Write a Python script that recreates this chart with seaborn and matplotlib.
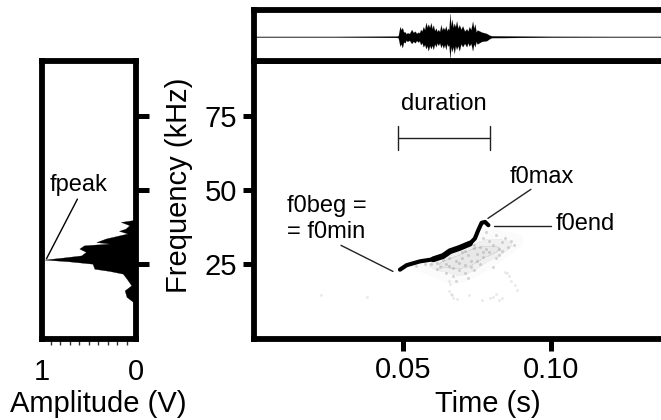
import matplotlib
matplotlib.use("Agg")
import matplotlib.pyplot as plt
import seaborn as sns

sns.set_style("white")
plt.rcParams['font.family'] = ['Liberation Sans', 'DejaVu Sans']
plt.rcParams['text.color'] = 'black'
plt.rcParams['axes.labelcolor'] = 'black'
plt.rcParams['xtick.labelcolor'] = 'black'
plt.rcParams['ytick.labelcolor'] = 'black'

# power spectrum
spec_freq = [40.5, 39.9, 39.3, 38.2, 37.05, 36.3, 35.4, 33.7, 32.5, 32.0, 31.4, 30.3, 29.2, 28.0, 27.25,
             26.6, 26.0, 25.2, 23.5, 22.75, 21.85, 20.2, 17.9, 16.2, 14.0, 12.3, 11.5]
spec_amp = [0.0, 0.035, 0.16, 0.07, 0.11, 0.18, 0.09, 0.32, 0.42, 0.28, 0.55, 0.60, 0.53, 0.58, 0.78,
            0.97, 0.71, 0.46, 0.44, 0.28, 0.14, 0.10, 0.05, 0.12, 0.10, 0.03, 0.0]

# oscillogram envelope
wave_t = [0.0, 0.02716, 0.04797, 0.04842, 0.04898, 0.04938, 0.04977, 0.05022, 0.05068, 0.05107, 0.05146,
          0.05219, 0.05292, 0.05349, 0.05405, 0.05461, 0.05518, 0.05557, 0.05596, 0.05641, 0.05687,
          0.05732, 0.05777, 0.05816, 0.05855, 0.059, 0.05946, 0.05985, 0.06025, 0.06069, 0.06114,
          0.06153, 0.06193, 0.06238, 0.06284, 0.06323, 0.06362, 0.06407, 0.06452, 0.06486, 0.0652,
          0.06554, 0.06588, 0.0662, 0.06655, 0.06694, 0.06733, 0.06772, 0.06812, 0.06857, 0.06903,
          0.06959, 0.07015, 0.07082, 0.0715, 0.07195, 0.0724, 0.07296, 0.07353, 0.07392, 0.07432,
          0.07471, 0.0751, 0.07657, 0.07826, 0.07916, 0.07995, 0.08959, 0.09999, 0.12, 0.1372]
wave_up = [0.015, 0.015, 0.03, 0.05, 0.43, 0.30, 0.39, 0.20, 0.21, 0.12, 0.17,
           0.14, 0.31, 0.18, 0.24, 0.14, 0.20, 0.16, 0.31, 0.24, 0.43,
           0.30, 0.61, 0.40, 0.54, 0.39, 0.60, 0.34, 0.50, 0.26, 0.37,
           0.22, 0.31, 0.22, 0.51, 0.28, 0.40, 0.30, 0.46, 0.25, 0.36,
           0.30, 1.0, 0.45, 0.74, 0.40, 0.57, 0.42, 0.67, 0.36, 0.51,
           0.32, 0.46, 0.24, 0.34, 0.24, 0.43, 0.30, 0.66, 0.36, 0.54,
           0.20, 0.29, 0.20, 0.14, 0.07, 0.04, 0.03, 0.02, 0.015, 0.015]
wave_dn = [0.015, 0.015, 0.03, 0.05, 0.40, 0.30, 0.47, 0.22, 0.26, 0.14, 0.20,
           0.15, 0.29, 0.19, 0.26, 0.16, 0.23, 0.17, 0.34, 0.25, 0.43,
           0.33, 0.51, 0.38, 0.60, 0.37, 0.51, 0.36, 0.54, 0.30, 0.43,
           0.26, 0.37, 0.26, 0.46, 0.32, 0.49, 0.33, 0.54, 0.28, 0.40,
           0.35, 0.93, 0.42, 0.63, 0.42, 0.71, 0.38, 0.54, 0.38, 0.60,
           0.30, 0.43, 0.28, 0.43, 0.26, 0.40, 0.28, 0.60, 0.30, 0.43,
           0.20, 0.31, 0.20, 0.17, 0.09, 0.04, 0.03, 0.02, 0.015, 0.015]

# spectrogram contour and the grey specks around it
ridge_t = [0.04898, 0.05124, 0.05574, 0.06025, 0.06358, 0.06587, 0.0693, 0.07263, 0.0743, 0.07544, 0.07659,
           0.07773, 0.07887]
ridge_f = [23.2, 24.7, 26.0, 26.7, 27.8, 29.4, 30.6, 32.0, 33.7, 36.5, 39.0, 39.3, 38.2]
speck_t = [0.0543, 0.0574, 0.0594, 0.0615, 0.0626, 0.0636, 0.0647, 0.0657, 0.0668, 0.0678, 0.0688, 0.0699, 0.0709,
           0.0720, 0.0730, 0.0740, 0.0751, 0.0761, 0.0772, 0.0782, 0.0792, 0.0803, 0.0813, 0.0824, 0.0834, 0.0844,
           0.0855, 0.0865, 0.0876, 0.0647, 0.0668, 0.0688, 0.0709, 0.0730, 0.0751, 0.0772, 0.0792, 0.0813, 0.0834,
           0.0615, 0.0657, 0.0699, 0.0740, 0.0782, 0.0824, 0.0678, 0.0720, 0.0761, 0.0803, 0.0709, 0.0740, 0.0772]
speck_f = [24.5, 25.0, 25.2, 25.6, 24.2, 26.4, 25.0, 24.4, 23.8, 26.2, 25.3, 27.2, 24.6,
           28.0, 26.0, 30.5, 28.6, 31.0, 34.0, 36.0, 33.0, 31.5, 35.0, 30.0, 32.5, 34.0,
           31.0, 33.0, 31.5, 22.0, 21.0, 23.0, 22.0, 24.0, 26.0, 27.5, 29.0, 27.0, 29.5,
           23.5, 27.0, 29.0, 23.0, 30.0, 28.0, 19.5, 20.5, 25.0, 24.0, 29.5, 31.5, 29.0]
faint_t = [0.0657, 0.0660, 0.0665, 0.0670, 0.0681, 0.0722, 0.0768, 0.0794, 0.0815, 0.0836, 0.0846, 0.0853,
           0.0859, 0.0866, 0.0877, 0.0885, 0.0657, 0.0661, 0.0222, 0.0378, 0.0805, 0.0826]
faint_f = [19.5, 18.5, 14.5, 13.5, 13.2, 14.5, 13.0, 13.5, 15.0, 13.5, 22.5, 22.0, 21.0, 19.5, 18.0,
           16.5, 16.0, 15.0, 14.5, 14.0, 14.0, 13.0]

freq_ticks = [25, 50, 75]
time_ticks = [0.05, 0.10]
amp_ticks = [0.1, 0.2, 0.3, 0.4, 0.5, 0.6, 0.7, 0.8, 0.9]

W, H = 661, 420
BAR = 4.2
FS = 21
NOTE = 17


def box(l, t, r, b):
    return fig.add_axes([l / W, 1 - b / H, (r - l) / W, (b - t) / H])


def frame(ax, sides):
    for side, spine in ax.spines.items():
        spine.set_visible(side in sides)
        spine.set_linewidth(BAR)
        spine.set_color("black")
        spine.set_capstyle("projecting")


fig = plt.figure(figsize=(W / 100, H / 100), dpi=100)
ylim = (-0.2, 93.6)
xlim = (-0.00034, 0.1372)

# left panel, spectrum
ax_spec = box(41.5, 61, 136, 339)
ax_spec.fill_betweenx(spec_freq, spec_amp, 0, color="black", lw=0.2)
ax_spec.set_xlim(1, 0)
ax_spec.set_ylim(*ylim)
frame(ax_spec, ["left", "right", "top", "bottom"])
ax_spec.yaxis.tick_right()
ax_spec.set_yticks(freq_ticks)
ax_spec.set_yticklabels([])
ax_spec.tick_params(axis="y", right=True, length=9, width=3.6, color="black")
ax_spec.set_xticks([1, 0])
ax_spec.set_xticklabels(["1", "0"], fontsize=FS)
ax_spec.set_xticks(amp_ticks, minor=True)
ax_spec.tick_params(axis="x", which="major", length=0, pad=14)
ax_spec.tick_params(axis="x", which="minor", bottom=True, length=4.3, width=1, color="#333333")
ax_spec.set_xlabel("Amplitude (V)", fontsize=FS)
ax_spec.xaxis.set_label_coords(0.603, -0.183)
ax_spec.annotate("", xy=(0.947, 26.9), xytext=(0.62, 47),
                 arrowprops=dict(arrowstyle="-", lw=1, color="black", shrinkA=0, shrinkB=0))
ax_spec.text(0.61, 51.7, "fpeak", fontsize=NOTE, ha="center", va="center")

# main panel, spectrogram
ax_main = box(254, 61, W, 339)
sns.kdeplot(x=speck_t, y=speck_f, fill=True, cmap="Greys", levels=4, thresh=0.12, alpha=0.1,
            bw_adjust=0.9, linewidth=0, ax=ax_main)
sns.scatterplot(x=speck_t, y=speck_f, s=5, color="#777777", alpha=0.28, linewidth=0, ax=ax_main)
sns.scatterplot(x=faint_t, y=faint_f, s=4, color="#999999", alpha=0.22, linewidth=0, ax=ax_main)
sns.lineplot(x=ridge_t, y=ridge_f, color="black", lw=3.0, sort=False, estimator=None, ax=ax_main)
sns.lineplot(x=ridge_t[3:8], y=ridge_f[3:8], color="black", lw=4.2, sort=False, estimator=None, ax=ax_main)
ax_main.set_xlim(*xlim)
ax_main.set_ylim(*ylim)
frame(ax_main, ["left", "bottom", "top"])
ax_main.set_xticks(time_ticks)
ax_main.set_xticklabels(["0.05", "0.10"], fontsize=FS)
ax_main.set_yticks(freq_ticks)
ax_main.set_yticklabels([str(v) for v in freq_ticks], fontsize=FS)
ax_main.tick_params(axis="x", bottom=True, length=8.5, width=3.6, color="black", pad=4)
ax_main.tick_params(axis="y", left=True, length=8, width=3.6, color="black", pad=4)
ax_main.set_xlabel("Time (s)", fontsize=FS)
ax_main.xaxis.set_label_coords(0.574, -0.183)
ax_main.set_ylabel("Frequency (kHz)", fontsize=FS)
ax_main.yaxis.set_label_coords(-0.15, 0.554)

# duration bracket
ax_main.plot([0.0483, 0.0794], [67.6, 67.6], color="#222222", lw=1)
ax_main.plot([0.0483, 0.0483], [63.7, 71.5], color="#222222", lw=1)
ax_main.plot([0.0794, 0.0794], [63.7, 71.5], color="#222222", lw=1)
ax_main.text(0.06385, 79, "duration", fontsize=NOTE, ha="center", va="center")

# contour labels
ax_main.text(0.0108, 44.6, "f0beg =", fontsize=NOTE, ha="left", va="center")
ax_main.text(0.0108, 35.8, "= f0min", fontsize=NOTE, ha="left", va="center")
ax_main.plot([0.02905, 0.04662], [31.4, 22.6], color="#222222", lw=1)
ax_main.text(0.08615, 54.4, "f0max", fontsize=NOTE, ha="left", va="center")
ax_main.plot([0.07872, 0.09324], [40.5, 50.3], color="#222222", lw=1)
ax_main.text(0.1017, 38.5, "f0end", fontsize=NOTE, ha="left", va="center")
ax_main.plot([0.08074, 0.1], [37.8, 37.8], color="#222222", lw=1)

# top panel, oscillogram
ax_wave = box(254, 10, W, 61)
ax_wave.fill_between(wave_t, [-v for v in wave_dn], wave_up, color="black", lw=0.1)
ax_wave.set_xlim(*xlim)
ax_wave.set_ylim(-1.04, 1.146)
frame(ax_wave, ["left", "top", "bottom"])
ax_wave.set_xticks([])
ax_wave.set_yticks([])

fig.savefig("out.png", dpi=100)
